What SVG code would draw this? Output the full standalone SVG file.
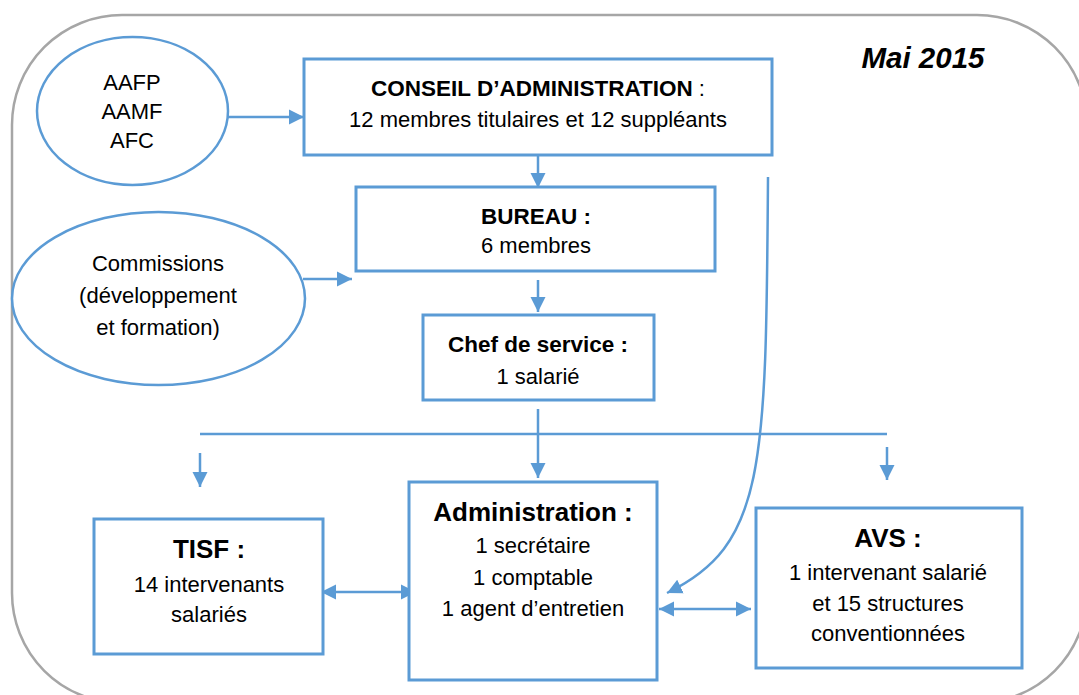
<svg xmlns="http://www.w3.org/2000/svg" width="1079" height="695" viewBox="0 0 1079 695">
  <style>
    .frame { fill: #ffffff; stroke: #a6a6a6; stroke-width: 2.5; }
    .box { fill: #ffffff; stroke: #5b9bd5; stroke-width: 3; }
    .oval { fill: #ffffff; stroke: #5b9bd5; stroke-width: 2.5; }
    .link { fill: none; stroke: #5b9bd5; stroke-width: 2.5; }
    text { font-family: "Liberation Sans", Arial, sans-serif; fill: #000000; text-anchor: middle; }
    .t { font-size: 22px; }
    .b { font-size: 22.5px; font-weight: bold; }
    .big { font-size: 26px; font-weight: bold; }
    .date { font-size: 29.5px; font-weight: bold; font-style: italic; }
  </style>
  <defs>
    <marker id="head" markerUnits="userSpaceOnUse" markerWidth="16" markerHeight="16" refX="15" refY="8" orient="auto-start-reverse" viewBox="0 0 16 16">
      <path d="M0,0.5 L15,8 L0,15.5 Z" fill="#5b9bd5"/>
    </marker>
  </defs>

  <!-- outer frame -->
  <rect class="frame" x="12" y="15" width="1075" height="688" rx="110" ry="110"/>

  <!-- date -->
  <text class="date" x="923" y="68">Mai 2015</text>

  <!-- connectors -->
  <g id="connectors">
    <line class="link" x1="228" y1="117" x2="304" y2="117" marker-end="url(#head)"/>
    <line class="link" x1="538" y1="155" x2="538" y2="188" marker-end="url(#head)"/>
    <line class="link" x1="303" y1="279" x2="352" y2="279" marker-end="url(#head)"/>
    <line class="link" x1="538" y1="280" x2="538" y2="312" marker-end="url(#head)"/>
    <line class="link" x1="538" y1="409" x2="538" y2="478" marker-end="url(#head)"/>
    <line class="link" x1="200" y1="434" x2="887" y2="434"/>
    <line class="link" x1="200" y1="453" x2="200" y2="487" marker-end="url(#head)"/>
    <line class="link" x1="887" y1="447" x2="887" y2="480" marker-end="url(#head)"/>
    <path class="link" d="M768,177 C766,470 765,545 667,593" marker-end="url(#head)"/>
    <line class="link" x1="321" y1="592" x2="416" y2="592" marker-start="url(#head)" marker-end="url(#head)"/>
    <line class="link" x1="659" y1="609" x2="751" y2="609" marker-start="url(#head)" marker-end="url(#head)"/>
  </g>

  <!-- member associations -->
  <g id="associations">
    <ellipse class="oval" cx="132.5" cy="111" rx="95.5" ry="74"/>
    <text class="t" x="132" y="90">AAFP</text>
    <text class="t" x="132" y="119">AAMF</text>
    <text class="t" x="132" y="148">AFC</text>
  </g>

  <!-- board of directors -->
  <g id="conseil">
    <rect class="box" x="304" y="59" width="468" height="96"/>
    <text x="538" y="96"><tspan class="b">CONSEIL D’ADMINISTRATION</tspan><tspan class="t"> :</tspan></text>
    <text class="t" x="538" y="127">12 membres titulaires et 12 suppléants</text>
  </g>

  <!-- committees -->
  <g id="commissions">
    <ellipse class="oval" cx="158.5" cy="298.5" rx="146.5" ry="86.5"/>
    <text class="t" x="158" y="271">Commissions</text>
    <text class="t" x="158" y="303">(développement</text>
    <text class="t" x="158" y="335">et formation)</text>
  </g>

  <!-- bureau -->
  <g id="bureau">
    <rect class="box" x="356" y="187" width="359" height="84"/>
    <text class="b" x="536" y="224">BUREAU :</text>
    <text class="t" x="536" y="253">6 membres</text>
  </g>

  <!-- head of service -->
  <g id="chef">
    <rect class="box" x="423" y="315" width="231" height="85"/>
    <text class="b" x="538" y="352">Chef de service :</text>
    <text class="t" x="538" y="384">1 salarié</text>
  </g>

  <!-- TISF team -->
  <g id="tisf">
    <rect class="box" x="94" y="519" width="229" height="135"/>
    <text class="big" x="209" y="558">TISF :</text>
    <text class="t" x="209" y="592">14 intervenants</text>
    <text class="t" x="209" y="622">salariés</text>
  </g>

  <!-- administration staff -->
  <g id="administration">
    <rect class="box" x="409" y="482" width="248" height="198"/>
    <text class="big" x="533" y="521">Administration :</text>
    <text class="t" x="533" y="553">1 secrétaire</text>
    <text class="t" x="533" y="585">1 comptable</text>
    <text class="t" x="533" y="616">1 agent d’entretien</text>
  </g>

  <!-- AVS -->
  <g id="avs">
    <rect class="box" x="756" y="508" width="266" height="160"/>
    <text class="big" x="888" y="547">AVS :</text>
    <text class="t" x="888" y="580">1 intervenant salarié</text>
    <text class="t" x="888" y="611">et 15 structures</text>
    <text class="t" x="888" y="641">conventionnées</text>
  </g>
</svg>
